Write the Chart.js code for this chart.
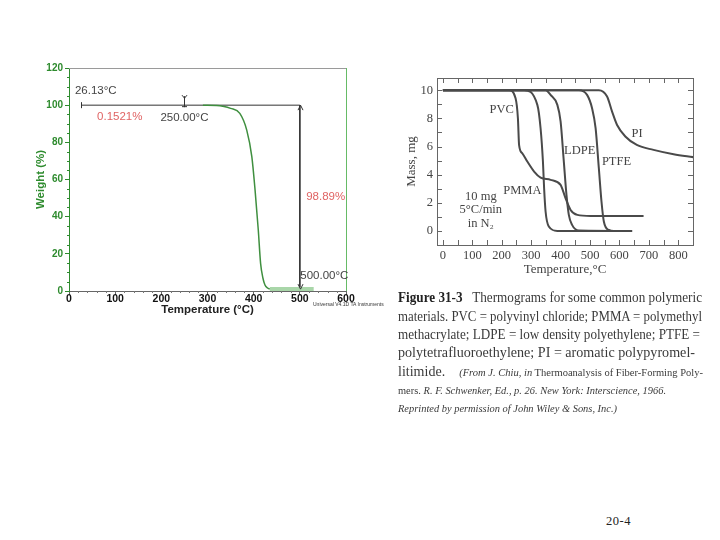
<!DOCTYPE html>
<html><head><meta charset="utf-8">
<script src="https://cdn.jsdelivr.net/npm/chart.js@4.4.0/dist/chart.umd.min.js"></script>
<style>
html,body{margin:0;padding:0;background:#fff;width:720px;height:540px;overflow:hidden;position:relative;}
#c1{position:absolute;left:30px;top:0;}
#c2{position:absolute;left:400px;top:70px;}
.cl{position:absolute;left:398px;white-space:nowrap;font-family:'Liberation Serif',serif;color:#3a3a3a;font-size:14px;line-height:16px;transform-origin:0 50%;}
.sm{font-size:10.5px;}
.it{font-style:italic;}
#ver{position:absolute;left:313px;top:301px;font-family:'Liberation Sans',sans-serif;font-size:5px;color:#333;white-space:nowrap;}
#pg{position:absolute;left:606px;top:514px;font-family:'Liberation Serif',serif;font-size:12.5px;letter-spacing:0.5px;color:#222;}
</style></head><body>
<canvas id="c1" width="360" height="317" style="width:360px;height:317px"></canvas>
<canvas id="c2" width="305" height="225" style="width:305px;height:225px"></canvas>
<div id="ver">Universal V4.1D TA Instruments</div>
<div class="cl" data-w="304" style="top:290px"><b style="color:#222">Figure 31-3</b>&nbsp;&nbsp; Thermograms for some common polymeric</div>
<div class="cl" data-w="304" style="top:309px">materials. PVC = polyvinyl chloride; PMMA = polymethyl</div>
<div class="cl" data-w="302" style="top:327px">methacrylate; LDPE = low density polyethylene; PTFE =</div>
<div class="cl" data-w="297" style="top:345px">polytetrafluoroethylene; PI = aromatic polypyromel-</div>
<div class="cl" data-w="305" style="top:364px">litimide.&nbsp;&nbsp;&nbsp; <span class="sm"><span class="it">(From J. Chiu, in</span> Thermoanalysis of Fiber-Forming Poly-</span></div>
<div class="cl sm" data-w="268" style="top:383px">mers. <span class="it">R. F. Schwenker, Ed., p. 26. New York: Interscience, 1966.</span></div>
<div class="cl sm it" data-w="219" style="top:401px">Reprinted by permission of John Wiley &amp; Sons, Inc.)</div>
<div id="pg">20-4</div>
<script>
// ---------- Left chart (TGA) data ----------
const tgaTemp   = [290, 320, 333, 350, 370, 385, 396, 403, 410, 415, 420, 424.5, 430, 435];
const tgaWeight = [100, 99.8, 99.4, 98.3, 95.6, 86.6, 72.3, 54.4, 32.8, 14.9, 7.0, 3.2, 1.6, 1.1];
const residueTemp = [435, 530];
const residueWeight = [1.1, 1.1];
const stepTemp = [26.13, 500];
const stepWeight = [100, 100];
const dropTemp = [500, 500];
const dropWeight = [100, 1.0];
const tgaXTicks = [0, 100, 200, 300, 400, 500, 600];
const tgaYTicks = [0, 20, 40, 60, 80, 100, 120];
const tgaNotes = ['26.13°C', '0.1521%', '250.00°C', '98.89%', '500.00°C'];
const tgaNoteX = [58, 110, 250, 556, 553];
const tgaNoteY = [107.8, 93.8, 93.3, 50.8, 8.2];

// ---------- Right chart (thermograms) data ----------
const pvcT  = [0, 225, 247, 255, 259, 270, 287, 310, 332, 366, 400, 417, 434, 457, 502, 682];
const pvcM  = [10, 10, 9.43, 8.0, 6.1, 5.52, 4.93, 4.22, 3.79, 3.63, 3.27, 2.32, 1.49, 1.14, 1.07, 1.07];
const pmmaT = [0, 276, 321, 332, 340, 344, 349, 360, 389, 643];
const pmmaM = [10, 10, 8.96, 7.3, 4.93, 3.03, 1.38, 0.31, 0, 0];
const ldpeT = [0, 349, 366, 389, 400, 411, 420, 428, 439, 462, 643];
const ldpeM = [10, 10, 9.67, 8.96, 7.78, 4.93, 2.56, 1.14, 0.43, 0.03, 0];
const ptfeT = [0, 462, 490, 507, 519, 530, 539, 547, 564, 581, 643];
const ptfeM = [10, 10, 9.67, 8.72, 7.3, 4.46, 2.09, 0.67, 0.07, 0, 0];
const piT   = [0, 530, 558, 575, 592, 620, 659, 716, 784, 852];
const piM   = [10, 10, 9.55, 8.48, 7.53, 6.71, 6.11, 5.76, 5.45, 5.24];
const thermoXTicks = [0, 100, 200, 300, 400, 500, 600, 700, 800];
const thermoYTicks = [0, 2, 4, 6, 8, 10];
const thermoLabels = ['PVC', 'PMMA', 'LDPE', 'PTFE', 'PI', '10 mg', '5°C/min', 'in N₂'];
const thermoLabelX = [200, 270, 465, 590, 660, 129, 129, 129];
const thermoLabelY = [8.58, 2.85, 5.69, 4.93, 6.94, 2.45, 1.5, 0.48];

const pts = (xs, ys) => xs.map((x, i) => ({x: x, y: ys[i]}));

document.querySelectorAll('.cl').forEach(el => {
  const w = el.getBoundingClientRect().width;
  const t = +el.dataset.w;
  el.style.transform = 'scaleX(' + (t / w) + ')';
});

Chart.defaults.font.family = "'Liberation Sans', Arial, sans-serif";
Chart.defaults.animation = false;

const GREEN = '#2e8b2e';

const tgaPlugin = {
  id: 'tgaDeco',
  afterDatasetsDraw(chart) {
    const {ctx, chartArea: a, scales: {x, y}} = chart;
    ctx.save();
    ctx.lineWidth = 1;
    ctx.strokeStyle = '#9a9a9a';
    ctx.beginPath(); ctx.moveTo(a.left, a.top + 0.5); ctx.lineTo(a.right, a.top + 0.5); ctx.stroke();
    ctx.strokeStyle = '#66bb66';
    ctx.beginPath(); ctx.moveTo(a.right + 0.5, a.top); ctx.lineTo(a.right + 0.5, a.bottom); ctx.stroke();
    ctx.strokeStyle = GREEN;
    for (let v = 0; v <= 120; v += 5) {
      if (v % 20 === 0) continue;
      const py = Math.round(y.getPixelForValue(v)) + 0.5;
      ctx.beginPath(); ctx.moveTo(a.left - 2, py); ctx.lineTo(a.left, py); ctx.stroke();
    }
    ctx.strokeStyle = '#777';
    for (let v = 0; v <= 600; v += 20) {
      if (v % 100 === 0) continue;
      const px = Math.round(x.getPixelForValue(v)) + 0.5;
      ctx.beginPath(); ctx.moveTo(px, a.bottom); ctx.lineTo(px, a.bottom + 2); ctx.stroke();
    }
    ctx.strokeStyle = '#333';
    const x0 = Math.round(x.getPixelForValue(stepTemp[0])) + 0.5;
    const y100 = y.getPixelForValue(stepWeight[0]);
    ctx.beginPath(); ctx.moveTo(x0, y100 - 3); ctx.lineTo(x0, y100 + 3); ctx.stroke();
    const xm = Math.round(x.getPixelForValue(250)) + 0.5;
    ctx.beginPath();
    ctx.moveTo(xm, y100 - 9); ctx.lineTo(xm, y100 + 2);
    ctx.moveTo(xm - 2.5, y100 - 10); ctx.lineTo(xm, y100 - 7); ctx.lineTo(xm + 2.5, y100 - 10);
    ctx.moveTo(xm - 2.5, y100 + 1.5); ctx.lineTo(xm + 2.5, y100 + 1.5);
    ctx.stroke();
    const xd = Math.round(x.getPixelForValue(dropTemp[0])) + 0.5;
    const yt = y.getPixelForValue(dropWeight[0]);
    const yb = y.getPixelForValue(dropWeight[1]);
    ctx.beginPath();
    ctx.moveTo(xd - 2.5, yt + 5); ctx.lineTo(xd, yt); ctx.lineTo(xd + 2.5, yt + 5);
    ctx.moveTo(xd - 2.5, yb - 5); ctx.lineTo(xd, yb); ctx.lineTo(xd + 2.5, yb - 5);
    ctx.stroke();
    ctx.font = "11.5px 'Liberation Sans', Arial, sans-serif";
    ctx.textAlign = 'center';
    ctx.textBaseline = 'middle';
    tgaNotes.forEach((t, i) => {
      ctx.fillStyle = (t.indexOf('%') >= 0) ? '#e06464' : '#444';
      ctx.fillText(t, x.getPixelForValue(tgaNoteX[i]), y.getPixelForValue(tgaNoteY[i]));
    });
    ctx.restore();
  }
};

new Chart(document.getElementById('c1'), {
  type: 'line',
  data: {
    datasets: [
      {data: pts(residueTemp, residueWeight), borderColor: '#a9d6a9', borderWidth: 4, pointRadius: 0},
      {data: pts(tgaTemp, tgaWeight), borderColor: '#3f8f3f', borderWidth: 1.5, pointRadius: 0, cubicInterpolationMode: 'monotone'},
      {data: pts(stepTemp, stepWeight), borderColor: '#333', borderWidth: 1, pointRadius: 0},
      {data: pts(dropTemp, dropWeight), borderColor: '#333', borderWidth: 1, pointRadius: 0}
    ]
  },
  options: {
    responsive: false,
    layout: {padding: {top: 68, right: 44, left: 0, bottom: 0}},
    plugins: {legend: {display: false}, tooltip: {enabled: false}},
    scales: {
      x: {
        type: 'linear', min: 0, max: 600,
        afterBuildTicks: s => { s.ticks = tgaXTicks.map(v => ({value: v})); },
        afterFit: s => { s.height = 26; },
        border: {color: '#666'},
        grid: {drawOnChartArea: false, tickLength: 4, color: '#666'},
        ticks: {color: '#111', font: {size: 10.5, weight: 'bold'}, padding: -2, maxRotation: 0},
        title: {display: true, text: 'Temperature (°C)', color: '#222', font: {size: 11.5, weight: 'bold'}, padding: {top: -2, bottom: 0}}
      },
      y: {
        type: 'linear', min: 0, max: 120,
        afterBuildTicks: s => { s.ticks = tgaYTicks.map(v => ({value: v})); },
        afterFit: s => { s.width = 39; },
        border: {color: GREEN},
        grid: {drawOnChartArea: false, tickLength: 4, color: GREEN},
        ticks: {color: GREEN, font: {size: 10, weight: 'bold'}, padding: 2},
        title: {display: true, text: 'Weight (%)', color: GREEN, font: {size: 11.5, weight: 'bold'}, padding: {top: 4, bottom: 0}}
      }
    }
  },
  plugins: [tgaPlugin]
});

const thermoPlugin = {
  id: 'thermoDeco',
  afterDatasetsDraw(chart) {
    const {ctx, chartArea: a, scales: {x, y}} = chart;
    ctx.save();
    ctx.strokeStyle = '#666';
    ctx.lineWidth = 1;
    ctx.strokeRect(Math.round(a.left) + 0.5, Math.round(a.top) + 0.5, Math.round(a.right - a.left), Math.round(a.bottom - a.top));
    for (let v = 0; v <= 800; v += 50) {
      const px = Math.round(x.getPixelForValue(v)) + 0.5;
      const L = 5;
      ctx.beginPath();
      ctx.moveTo(px, a.top); ctx.lineTo(px, a.top + L);
      ctx.moveTo(px, a.bottom); ctx.lineTo(px, a.bottom - L);
      ctx.stroke();
    }
    for (let v = 0; v <= 10; v += 1) {
      const py = Math.round(y.getPixelForValue(v)) + 0.5;
      const L = 5;
      ctx.beginPath();
      ctx.moveTo(a.left, py); ctx.lineTo(a.left + L, py);
      ctx.moveTo(a.right, py); ctx.lineTo(a.right - L, py);
      ctx.stroke();
    }
    ctx.fillStyle = '#444';
    ctx.font = "12.5px 'Liberation Serif', serif";
    ctx.textAlign = 'center';
    ctx.textBaseline = 'middle';
    thermoLabels.forEach((t, i) => {
      ctx.fillText(t, x.getPixelForValue(thermoLabelX[i]), y.getPixelForValue(thermoLabelY[i]));
    });
    ctx.restore();
  }
};

const lineDs = (xs, ys) => ({data: pts(xs, ys), borderColor: '#4a4a4a', borderWidth: 2, pointRadius: 0, cubicInterpolationMode: 'monotone'});

new Chart(document.getElementById('c2'), {
  type: 'line',
  data: {
    datasets: [lineDs(pvcT, pvcM), lineDs(pmmaT, pmmaM), lineDs(ldpeT, ldpeM), lineDs(ptfeT, ptfeM), lineDs(piT, piM)]
  },
  options: {
    responsive: false,
    layout: {padding: {top: 8, right: 12, left: 0, bottom: 18}},
    plugins: {legend: {display: false}, tooltip: {enabled: false}},
    scales: {
      x: {
        type: 'linear', min: -20, max: 850,
        afterBuildTicks: s => { s.ticks = thermoXTicks.map(v => ({value: v})); },
        afterFit: s => { s.height = 32; s.paddingLeft = 0; s.paddingRight = 0; },
        border: {display: false},
        grid: {display: false, drawTicks: false, tickLength: 0},
        ticks: {color: '#444', font: {family: "'Liberation Serif', serif", size: 12.5}, padding: 3, maxRotation: 0},
        title: {display: true, text: 'Temperature,°C', color: '#444', font: {family: "'Liberation Serif', serif", size: 13}, padding: {top: 2, bottom: 0}}
      },
      y: {
        type: 'linear', min: -1, max: 10.87,
        afterBuildTicks: s => { s.ticks = thermoYTicks.map(v => ({value: v})); },
        afterFit: s => { s.width = 37; s.paddingTop = 0; s.paddingBottom = 0; },
        border: {display: false},
        grid: {display: false, drawTicks: false, tickLength: 0},
        ticks: {color: '#444', font: {family: "'Liberation Serif', serif", size: 12.5}, padding: 4},
        title: {display: true, text: 'Mass, mg', color: '#444', font: {family: "'Liberation Serif', serif", size: 13}, padding: {top: 4, bottom: 0}}
      }
    }
  },
  plugins: [thermoPlugin]
});
</script>
</body></html>
